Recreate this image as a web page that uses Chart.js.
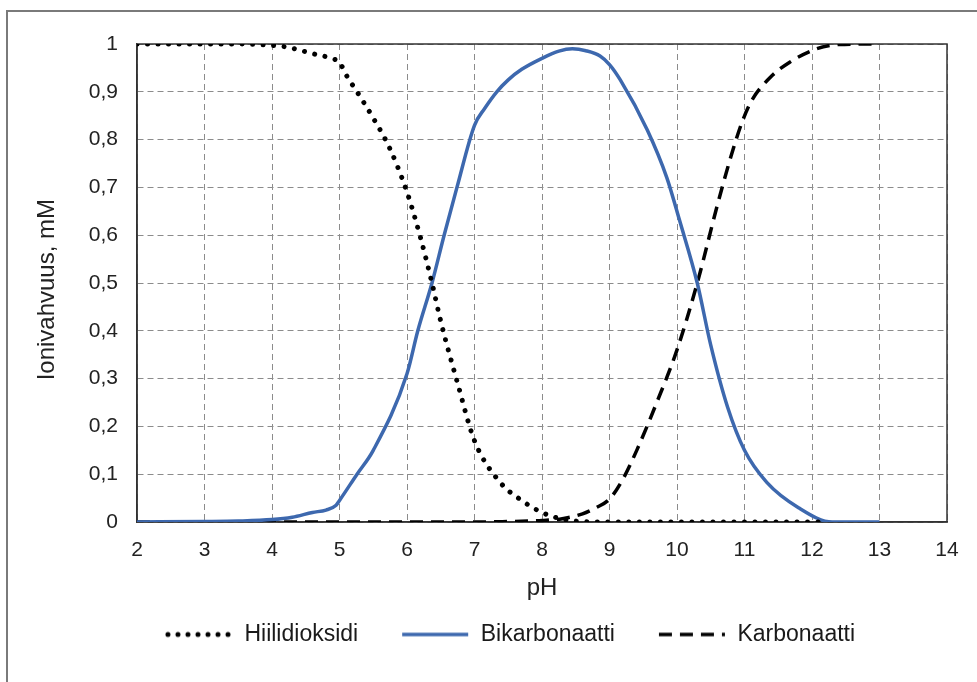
<!DOCTYPE html>
<html>
<head>
<meta charset="utf-8">
<script src="https://cdn.jsdelivr.net/npm/chart.js@4"></script>
<style>
html, body { margin:0; padding:0; background:#fff; overflow:hidden; width:977px; height:682px; }
#frame { position:absolute; left:6px; top:10px; width:1200px; height:1000px; border:2px solid #7a7a7a; box-sizing:border-box; }
#c { position:absolute; left:7px; top:10px; }
</style>
</head>
<body>
<div id="frame"></div>
<canvas id="c" width="1006" height="672"></canvas>
<script>
// ====== DATA ======
const seriesNames = ['Hiilidioksidi', 'Bikarbonaatti', 'Karbonaatti'];

const phHiili = [2, 2.5, 3, 3.5, 4, 4.2, 4.6, 4.9, 5.0, 5.1, 5.26, 5.5, 5.75, 6.0, 6.2, 6.37, 6.5, 6.75, 7.0, 7.38, 7.7, 8.0, 8.3, 8.6, 9.0, 10, 11, 12.2];
const hiilidioksidi = [1, 1, 1, 1, 0.997, 0.994, 0.98, 0.969, 0.962, 0.935, 0.9, 0.845, 0.78, 0.69, 0.595, 0.5, 0.42, 0.29, 0.17, 0.083, 0.045, 0.02, 0.006, 0.001, 0, 0, 0, 0];

const phBi = [2, 3, 3.5, 4, 4.3, 4.6, 4.8, 4.95, 5.0, 5.26, 5.5, 6.0, 6.16, 6.37, 6.55, 6.74, 7.0, 7.15, 7.33, 7.5, 7.7, 8.0, 8.25, 8.45, 8.65, 8.86, 9.0, 9.16, 9.56, 9.85, 10.04, 10.3, 10.5, 10.75, 11.0, 11.33, 11.8, 12.3, 13];
const bikarbonaatti = [0, 0.001, 0.002, 0.005, 0.01, 0.02, 0.025, 0.035, 0.045, 0.1, 0.15, 0.31, 0.4, 0.5, 0.6, 0.7, 0.83, 0.865, 0.9, 0.925, 0.947, 0.97, 0.985, 0.99, 0.986, 0.975, 0.957, 0.925, 0.82, 0.72, 0.63, 0.5, 0.37, 0.24, 0.15, 0.083, 0.03, 0, 0];

const phKarb = [2, 4, 6, 7, 7.5, 7.8, 8.0, 8.3, 8.6, 8.8, 9.0, 9.2, 9.41, 9.7, 10.0, 10.3, 10.6, 10.8, 10.96, 11.1, 11.38, 11.67, 12.07, 12.4, 12.93];
const karbonaatti = [0, 0, 0, 0, 0.001, 0.002, 0.003, 0.007, 0.017, 0.03, 0.048, 0.09, 0.152, 0.25, 0.36, 0.5, 0.664, 0.765, 0.835, 0.88, 0.93, 0.962, 0.99, 0.999, 1];

const yTickLabels = ['0', '0,1', '0,2', '0,3', '0,4', '0,5', '0,6', '0,7', '0,8', '0,9', '1'];

// ====== HELPERS ======
const byId = (id) => document.getElementById(id);
const pts = (xs, ys) => xs.map((x, i) => ({ x, y: ys[i] }));

// legend sample: the legend's own 'line' style ignores dashes, so hand it a small canvas
const sample = (color, width, dash, cap) => {
  const cv = document.createElement('canvas');
  cv.width = 68; cv.height = 10;
  const g = cv.getContext('2d');
  g.strokeStyle = color; g.lineWidth = width; g.lineCap = cap; g.setLineDash(dash);
  g.beginPath(); g.moveTo(cap === 'round' ? 3 : 1, 5); g.lineTo(67, 5); g.stroke();
  return cv;
};

const FONT = '"Liberation Sans", Arial, sans-serif';
Chart.defaults.font.family = FONT;
Chart.defaults.color = '#1a1a1a';

// solid frame round the plot area (top and right sides too)
const plotBorder = {
  id: 'plotBorder',
  beforeDatasetsDraw(chart) {
    const { ctx, chartArea: a } = chart;
    ctx.save();
    ctx.strokeStyle = '#333';
    ctx.lineWidth = 1.5;
    ctx.strokeRect(a.left, a.top, a.right - a.left, a.bottom - a.top);
    ctx.restore();
  }
};

const gridColor = '#8c8c8c';
const blue = '#3d68ae';
const dots = [0.01, 10.5];
const dashes = [13, 8];

new Chart(byId('c'), {
  type: 'line',
  data: {
    datasets: [
      { label: seriesNames[0], data: pts(phHiili, hiilidioksidi), borderColor: '#000', borderWidth: 5,
        borderDash: dots, borderCapStyle: 'round', pointRadius: 0, cubicInterpolationMode: 'monotone',
        pointStyle: sample('#000', 5, [0.01, 10], 'round') },
      { label: seriesNames[1], data: pts(phBi, bikarbonaatti), borderColor: blue, borderWidth: 3.5,
        pointRadius: 0, cubicInterpolationMode: 'monotone',
        pointStyle: sample(blue, 3.5, [], 'butt') },
      { label: seriesNames[2], data: pts(phKarb, karbonaatti), borderColor: '#000', borderWidth: 3.5,
        borderDash: dashes, borderCapStyle: 'butt', pointRadius: 0, cubicInterpolationMode: 'monotone',
        pointStyle: sample('#000', 3.5, dashes, 'butt') }
    ]
  },
  options: {
    responsive: false,
    animation: false,
    devicePixelRatio: 1,
    layout: { padding: { top: 34, left: 0, right: 0, bottom: 26 } },
    plugins: {
      legend: {
        position: 'bottom',
        labels: { usePointStyle: true, pointStyleWidth: 68, padding: 43,
                  font: { size: 23 }, color: '#1a1a1a' }
      },
      tooltip: { enabled: false }
    },
    scales: {
      x: {
        type: 'linear', min: 2, max: 14,
        ticks: { stepSize: 1, padding: 16, font: { size: 21 }, color: '#222' },
        grid: { color: gridColor, drawTicks: false },
        border: { color: '#333', width: 1.5, dash: [6, 4] },
        title: { display: true, text: 'pH', font: { size: 24 }, color: '#222', padding: { top: 0, bottom: -23 } },
        afterFit(s) { s.height = 58; }
      },
      y: {
        min: 0, max: 1,
        ticks: { stepSize: 0.1, padding: 19, font: { size: 21 }, color: '#222', callback: (v, i) => yTickLabels[i] },
        grid: { color: gridColor, drawTicks: false },
        border: { color: '#333', width: 1.5, dash: [6, 4] },
        title: { display: true, text: 'Ionivahvuus, mM  ', font: { size: 24 }, color: '#222', padding: { top: 26, bottom: 0 } },
        afterFit(s) { s.width = 130; }
      },
      // empty spacer on the right so the legend centres like the original
      y2: {
        position: 'right', min: 0, max: 1,
        ticks: { display: false }, grid: { display: false }, border: { display: false },
        afterFit(s) { s.width = 66; }
      }
    }
  },
  plugins: [plotBorder]
});
</script>
</body>
</html>
